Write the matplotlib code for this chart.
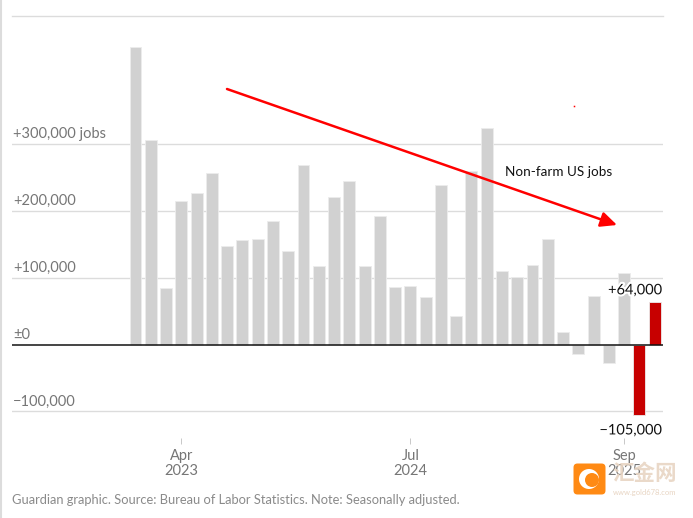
# -*- coding: utf-8 -*-
import numpy as np
import matplotlib
matplotlib.use('Agg')
import matplotlib.pyplot as plt
from matplotlib.patches import FancyBboxPatch, Circle
from matplotlib.transforms import blended_transform_factory
import matplotlib.patheffects as pe

# monthly change, Jan 2023 - Nov 2025
jobs = [444000, 305000, 84000, 215000, 226000, 256000, 147000, 156000, 157000,
        185000, 140000, 268000, 118000, 221000, 245000, 117000, 192000, 86000,
        87000, 71000, 239000, 43000, 260000, 323000, 110000, 101000, 119000,
        157000, 18000, -14000, 72000, -27000, 107000, -105000, 64000]
highlight = [33, 34]
y_ticks = [300000, 200000, 100000, 0, -100000]
y_labels = ['+300,000 jobs', '+200,000', '+100,000', '±0', '−100,000']
x_ticks = [3, 18, 32]
x_labels = ['Apr\n2023', 'Jul\n2024', 'Sep\n2025']

W, H = 693, 518
plt.rcParams['font.family'] = ['Lato', 'Noto Sans CJK SC', 'DejaVu Sans']

fig = plt.figure(figsize=(W / 100, H / 100), dpi=100)

# axes placed in pixels so the grid lands where it does in the picture
left, right, top, bottom = 12, 663, 15.5, 438
ax = fig.add_axes([left / W, 1 - bottom / H, (right - left) / W, (bottom - top) / H])
px_per_job = 66.9 / 100000
zero_y = 344.5
ax.set_ylim((zero_y - bottom) / px_per_job, (zero_y - top) / px_per_job)
step = 15.27
x0 = 135.5
ax.set_xlim((left - x0) / step, (right - x0) / step)

for s in ax.spines.values():
    s.set_visible(False)
ax.patch.set_alpha(0)

for t in y_ticks:
    if t != 0:
        ax.axhline(t, color='#dcdcdc', lw=1, zorder=1)
ax.axhline(ax.get_ylim()[1], color='#dcdcdc', lw=1, zorder=1, clip_on=False)

x = np.arange(len(jobs))
colors = ['#c70000' if i in highlight else '#d1d1d1' for i in x]
ax.bar(x, jobs, width=0.78, color=colors, edgecolor='#ececec', linewidth=0.6, zorder=2)
ax.axhline(0, color='#121212', lw=1.1, zorder=3)

trans = blended_transform_factory(ax.transAxes, ax.transData)
for t, lab in zip(y_ticks, y_labels):
    ax.text(0.002, t + 3500, lab, transform=trans, ha='left', va='bottom',
            fontsize=10.5, color='#767676', zorder=4)

ax.set_yticks([])
ax.set_xticks(x_ticks)
ax.set_xticklabels(x_labels, fontsize=10.5, color='#767676', linespacing=1.08)
ax.tick_params(axis='x', length=4, width=0.7, color='#c8c8c8', pad=4)

halo = [pe.withStroke(linewidth=3, foreground='white')]
ax.text(34.5, 64000 + 6500, '+64,000', ha='right', va='bottom', fontsize=10.5,
        color='#121212', path_effects=halo, zorder=5)
ax.text(34.5, -105000 - 13000, '−105,000', ha='right', va='top', fontsize=10.5,
        color='#121212', path_effects=halo, zorder=5)
ax.text(24.2, 258000, 'Non-farm US jobs', ha='left', va='center', fontsize=9.7,
        color='#121212', zorder=5)

# hand drawn red arrow
ax.annotate('', xy=(617, H - 225), xytext=(227, H - 89), xycoords='figure pixels',
            textcoords='figure pixels', zorder=6,
            arrowprops=dict(arrowstyle='-|>,head_length=0.75,head_width=0.35', color='#ff0000',
                            lw=1.8, shrinkA=0, shrinkB=0, mutation_scale=13))
fig.add_artist(plt.Line2D([574 / W], [1 - 106 / H], marker='s', ms=1.1, color='#ff0000', mew=0))

# left border and footer
fig.add_artist(plt.Line2D([0.5 / W, 0.5 / W], [0, 1], color='#dcdcdc', lw=1.5))
fig.text(12 / W, 1 - 500.5 / H, 'Guardian graphic. Source: Bureau of Labor Statistics. Note: Seasonally adjusted.',
         fontsize=9.3, color='#8a8a8a', ha='left', va='center')

# site watermark
wm = fig.add_axes([0, 0, 1, 1])
wm.set_xlim(0, W)
wm.set_ylim(H, 0)
wm.axis('off')
wm.patch.set_alpha(0)
wm.add_patch(FancyBboxPatch((575, 465), 29, 28, boxstyle='round,pad=1.5,rounding_size=4',
                            fc='#ff8a14', ec='none'))
wm.add_patch(Circle((589, 479), 10, fc='white', ec='none'))
wm.add_patch(Circle((592, 480), 7, fc='#ff8a14', ec='none'))
wm.text(644.5, 474, '汇金网', fontsize=15.5, color='#e8d5c3', ha='center', va='center',
        fontweight='bold', alpha=0.9)
wm.text(644.5, 492.5, 'www.gold678.com', fontsize=5.5, color='#e8d5c3', ha='center', va='center')

fig.savefig('out.png', dpi=100)
